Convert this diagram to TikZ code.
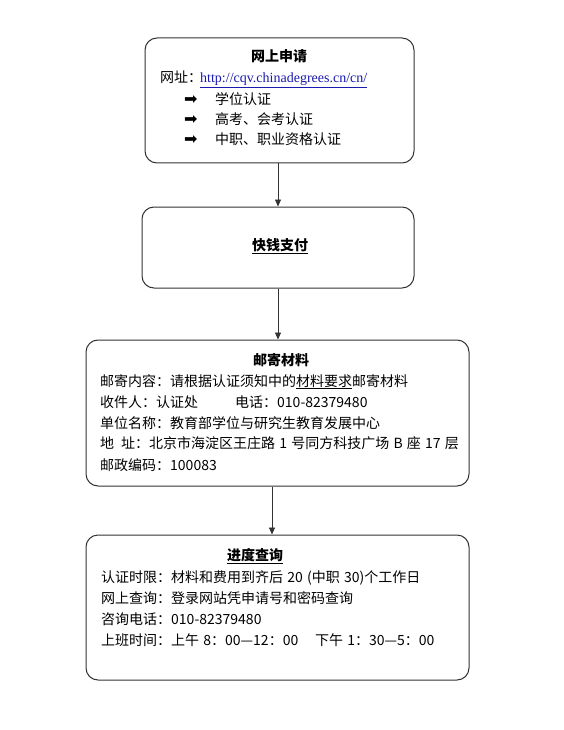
\documentclass[tikz,border=0pt]{standalone}
\usepackage{fontspec}
\setmainfont{Noto Sans CJK SC}
\newfontfamily\urlfont{Liberation Serif}
\newfontfamily\symfont{DejaVu Sans}
\usetikzlibrary{arrows.meta}
\definecolor{boxline}{HTML}{333333}
\definecolor{linkblue}{HTML}{1A1AB0}
\newcommand\hs{\hspace{0.3em}}
\begin{document}
\begin{tikzpicture}[x=1pt,y=-1pt,
  flowbox/.style={draw=boxline,line width=1pt,rounded corners=12pt,inner sep=0pt},
  txt/.style={anchor=base west,inner sep=0pt,font=\fontsize{14}{16}\selectfont},
  ttl/.style={anchor=base,inner sep=0pt,font=\fontsize{14}{16}\selectfont\bfseries},
  bul/.style={anchor=base west,inner sep=0pt,font=\fontsize{16}{18}\symfont},
  arr/.style={draw=boxline,line width=0.8pt,-{Triangle[length=7pt,width=6pt]}}]
\useasboundingbox (0,0) rectangle (563,730);
\fill[white] (0,0) rectangle (563,730);
% boxes
\node[flowbox,minimum width=269pt,minimum height=125pt] (b1) at (279.5,100.5) {};
\node[flowbox,minimum width=272pt,minimum height=81pt] (b2) at (278,247.5) {};
\node[flowbox,minimum width=383pt,minimum height=146pt] (b3) at (277.5,413) {};
\node[flowbox,minimum width=383pt,minimum height=145pt] (b4) at (277.5,607.5) {};
% box 1 text
\node[ttl] (t1) at (279,62) {网上申请};
\node[txt] (u1) at (160,83) {网址：};
\node[txt,text=linkblue] (u2) at (200,83) {\urlfont\underline{http://cqv.chinadegrees.cn/cn/}};
\node[bul] (k1) at (184,105) {➡};
\node[txt] (i1) at (215,105) {学位认证};
\node[bul] (k2) at (184,125) {➡};
\node[txt] (i2) at (215,125) {高考、会考认证};
\node[bul] (k3) at (184,145) {➡};
\node[txt] (i3) at (215,145) {中职、职业资格认证};
% box 2 text
\node[ttl] (t2) at (280,250) {\underline{快钱支付}};
% box 3 text
\node[ttl] (t3) at (281,365) {邮寄材料};
\node[txt] (m1) at (100,386) {邮寄内容：请根据认证须知中的\underline{材料要求}邮寄材料};
\node[txt] (m2) at (100,407) {收件人：认证处};
\node[txt] (m2b) at (235,407) {电话：010-82379480};
\node[txt] (m3) at (100,428) {单位名称：教育部学位与研究生教育发展中心};
\node[txt] (m4) at (100,448) {地\hspace{0.5em}址：北京市海淀区王庄路\hs 1\hs 号同方科技广场\hs B\hs 座\hs 17\hs 层};
\node[txt] (m5) at (100,470) {邮政编码：100083};
% box 4 text
\node[ttl] (t4) at (255,560) {\underline{进度查询}};
\node[txt] (q1) at (101,582) {认证时限：材料和费用到齐后\hs 20\hs (中职\hs 30)个工作日};
\node[txt] (q2) at (101,603) {网上查询：登录网站凭申请号和密码查询};
\node[txt] (q3) at (101,624) {咨询电话：010-82379480};
\node[txt] (q4) at (101,645) {上班时间：上午\hs 8：00—12：00\hspace{1.2em}下午\hs 1：30—5：00};
% connectors
\draw[arr] ([xshift=-1.5pt]b1.south) -- (b2.north);
\draw[arr] (b2.south) -- ([xshift=0.5pt]b3.north);
\draw[arr] ([xshift=-5.5pt]b3.south) -- ([xshift=-5.5pt]b4.north);
\end{tikzpicture}
\end{document}
